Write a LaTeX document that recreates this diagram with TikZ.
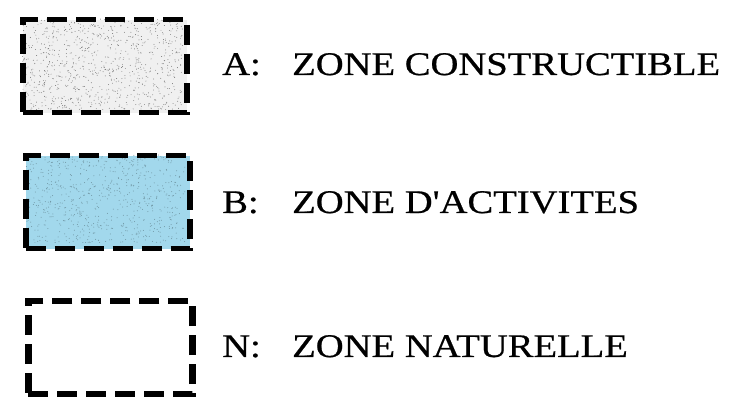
\documentclass[tikz,border=0pt]{standalone}
\usepackage{fontspec}
\newfontfamily\legfont[FakeStretch=1.17,FakeBold=0.6]{Liberation Serif}
\definecolor{fillA}{RGB}{240,240,240}
\definecolor{fillB}{RGB}{162,216,236}
\begin{document}
\begin{tikzpicture}[x=1pt,y=1pt,
  legbox/.style={draw=black,line width=5.5pt,dash pattern=on 20pt off 9pt,inner sep=0pt,minimum width=164pt,minimum height=93pt,anchor=north west},
  legtxt/.style={anchor=base west,inner sep=0pt,font=\legfont\fontsize{33}{36}\selectfont}]
\useasboundingbox (0,0) rectangle (745,414);
% Box A
\node[legbox,fill=fillA] (boxA) at (20,397) {};
\pgfmathsetseed{7}
\begin{scope}
\clip (22,395) rectangle (183,304);
\foreach \i in {1,...,900}{
  \fill[black!55] (22+161*rnd,304+91*rnd) circle (0.45pt);
}
\end{scope}
\node[legbox,fill=none] (boxAb) at (20,397) {};
% Box B
\node[legbox,fill=fillB] (boxB) at (23,261) {};
\begin{scope}
\clip (25,259) rectangle (185,171);
\foreach \i in {1,...,700}{
  \fill[black!30!fillB] (25+160*rnd,171+88*rnd) circle (0.5pt);
}
\end{scope}
\node[legbox,fill=none] (boxBb) at (23,261) {};
% Box N
\node[legbox,line width=6.5pt] (boxN) at (25,116) {};
% Labels
\node[legtxt] (labA) at (222,339) {A:};
\node[legtxt] (txtA) at (292,339) {ZONE CONSTRUCTIBLE};
\node[legtxt] (labB) at (222,201) {B:};
\node[legtxt] (txtB) at (292,201) {ZONE D'ACTIVITES};
\node[legtxt] (labN) at (222,57) {N:};
\node[legtxt] (txtN) at (292,57) {ZONE NATURELLE};
\end{tikzpicture}
\end{document}
